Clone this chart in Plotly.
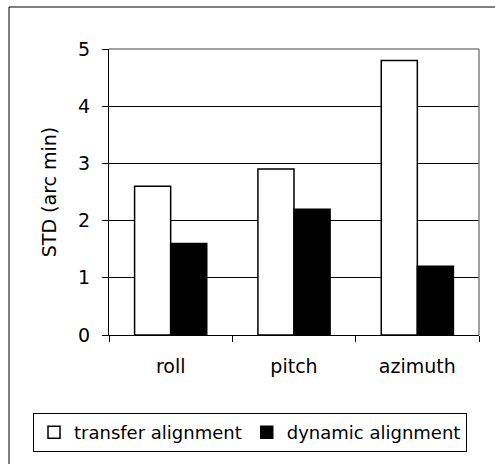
import plotly.graph_objects as go

categories = ["roll", "pitch", "azimuth"]
transfer_alignment = [2.6, 2.9, 4.8]
dynamic_alignment = [1.6, 2.2, 1.2]
y_ticks = [0, 1, 2, 3, 4, 5]

FONT = "DejaVu Sans"
W, H = 495, 464
L, R, T, B = 109, 16, 49, 129
PW, PH = W - L - R, H - T - B


def px_x(px):
    return (px - L) / PW


def px_y(py):
    return (H - B - py) / PH


fig = go.Figure()

fig.add_trace(
    go.Bar(
        x=categories,
        y=transfer_alignment,
        name="transfer alignment",
        marker=dict(color="white", line=dict(color="black", width=1.5)),
    )
)
fig.add_trace(
    go.Bar(
        x=categories,
        y=dynamic_alignment,
        name="dynamic alignment",
        marker=dict(color="black", line=dict(color="black", width=1.5)),
    )
)

# gray plot-area border on top and right
fig.add_shape(type="line", xref="paper", yref="paper", x0=0, x1=1, y0=1, y1=1,
              line=dict(color="#808080", width=1.5), layer="above")
fig.add_shape(type="line", xref="paper", yref="paper", x0=1, x1=1, y0=0, y1=1,
              line=dict(color="#808080", width=1.5), layer="above")

# outer chart frame
fig.add_shape(type="rect", xref="paper", yref="paper",
              x0=px_x(9), x1=px_x(W + 5), y0=px_y(H + 5), y1=px_y(7),
              line=dict(color="black", width=1), layer="below")

fig.update_layout(
    width=W,
    height=H,
    margin=dict(l=L, r=R, t=T, b=B),
    paper_bgcolor="white",
    plot_bgcolor="white",
    barmode="group",
    bargap=0.415,
    bargroupgap=0,
    font=dict(family=FONT, size=19, color="black"),
    showlegend=True,
    legend=dict(
        orientation="h",
        x=px_x(33),
        xanchor="left",
        y=px_y(413),
        yanchor="top",
        bordercolor="black",
        borderwidth=1,
        bgcolor="white",
        font=dict(family=FONT, size=18, color="black"),
        itemwidth=30,
        traceorder="normal",
    ),
)

fig.update_xaxes(
    type="category",
    showline=True,
    linecolor="black",
    linewidth=1,
    ticks="outside",
    tickson="boundaries",
    ticklen=6,
    tickcolor="black",
    showgrid=False,
    ticklabelstandoff=14,
    tickfont=dict(family=FONT, size=19),
)
fig.update_yaxes(
    range=[0, 5],
    tickvals=y_ticks,
    showline=True,
    linecolor="black",
    linewidth=1,
    ticks="outside",
    ticklen=6,
    tickcolor="black",
    showgrid=True,
    gridcolor="black",
    gridwidth=1,
    zeroline=False,
    ticklabelstandoff=8,
    tickfont=dict(family=FONT, size=19),
    title=dict(text="STD (arc min)", standoff=16, font=dict(family=FONT, size=19)),
)

fig.write_html(
    "out.html",
    config={"displayModeBar": False},
    post_script="document.body.style.margin='0';",
)
